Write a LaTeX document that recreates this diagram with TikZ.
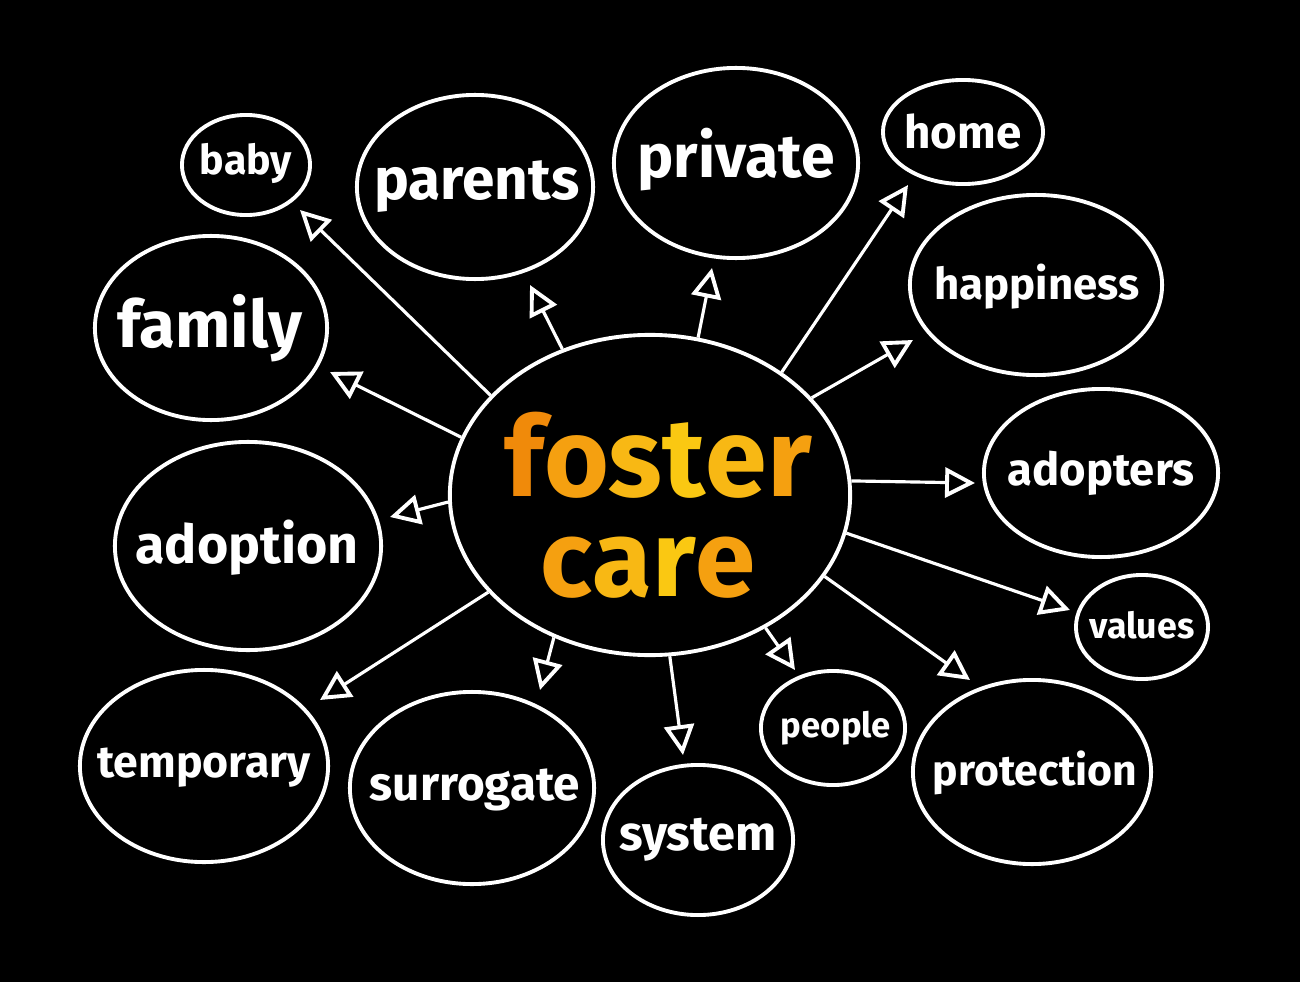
\documentclass[tikz,border=0pt]{standalone}
\usepackage{fontspec}
\setmainfont{Fira Sans}
\usetikzlibrary{arrows.meta,shapes.geometric}
\definecolor{oA}{HTML}{F08A0A}
\definecolor{oB}{HTML}{F5A010}
\definecolor{oC}{HTML}{F8B814}
\definecolor{oD}{HTML}{FAC812}
\begin{document}
\begin{tikzpicture}[x=0.01cm,y=-0.01cm,
  bub/.style 2 args={draw=white, line width=1.1pt, ellipse, inner sep=0pt,
     minimum width=#1*0.02cm, minimum height=#2*0.02cm},
  word/.style={text=white, inner sep=0pt, font=\bfseries},
  arr/.style={draw=white, line width=0.9pt,
     -{Triangle[open, length=8.5pt, width=8.5pt, line width=1.1pt]}}]
\fill[black] (0,0) rectangle (1300,982);
\useasboundingbox (0,0) rectangle (1300,982);

% central bubble
\node[bub={200}{160}] (fc) at (650,495) {};
\node[inner sep=0pt, font=\bfseries] (fos) at (658,455)
  {\resizebox{3.07cm}{!}{\textcolor{oA}{f}\textcolor{oB}{o}\textcolor{oC}{s}\textcolor{oD}{t}\textcolor{oC}{e}\textcolor{oB}{r}}};
\node[inner sep=0pt, font=\bfseries] (car) at (648,568)
  {\resizebox{2.15cm}{!}{\textcolor{oB}{c}\textcolor{oC}{a}\textcolor{oD}{r}\textcolor{oB}{e}}};

% outer bubbles
\node[bub={64}{50}]   (baby) at (246,165) {};
\node[bub={118}{92}]  (par)  at (475,187) {};
\node[bub={122}{95}]  (pri)  at (736,163) {};
\node[bub={80}{52}]   (home) at (963,132) {};
\node[bub={126}{90}]  (hap)  at (1036,285) {};
\node[bub={116}{92}]  (fam)  at (211,328) {};
\node[bub={117}{84}]  (adp)  at (1101,473) {};
\node[bub={133}{104}] (ado)  at (248,546) {};
\node[bub={66}{52}]   (val)  at (1142,627) {};
\node[bub={124}{96}]  (tem)  at (204,766) {};
\node[bub={122}{96}]  (sur)  at (472,788) {};
\node[bub={95}{75}]   (sys)  at (698,840) {};
\node[bub={72}{57}]   (peo)  at (833,728) {};
\node[bub={119}{92}]  (pro)  at (1032,772) {};

% labels
\node[word] (baby-t) at (246,163) {\resizebox{0.92cm}{!}{baby}};
\node[word] (par-t)  at (477,187) {\resizebox{2.05cm}{!}{parents}};
\node[word] (pri-t)  at (736,160) {\resizebox{1.97cm}{!}{private}};
\node[word] (home-t) at (963,132) {\resizebox{1.17cm}{!}{home}};
\node[word] (hap-t)  at (1037,287) {\resizebox{2.05cm}{!}{happiness}};
\node[word] (fam-t)  at (210,328) {\resizebox{1.84cm}{!}{family}};
\node[word] (adp-t)  at (1101,473) {\resizebox{1.87cm}{!}{adopters}};
\node[word] (ado-t)  at (247,548) {\resizebox{2.23cm}{!}{adoption}};
\node[word] (val-t)  at (1142,625) {\resizebox{1.05cm}{!}{values}};
\node[word] (tem-t)  at (204,768) {\resizebox{2.13cm}{!}{temporary}};
\node[word] (sur-t)  at (475,790) {\resizebox{2.10cm}{!}{surrogate}};
\node[word] (sys-t)  at (698,840) {\resizebox{1.57cm}{!}{system}};
\node[word] (peo-t)  at (836,728) {\resizebox{1.10cm}{!}{people}};
\node[word] (pro-t)  at (1035,773) {\resizebox{2.04cm}{!}{protection}};

% arrow tips
\coordinate (tbaby) at (300,210);
\coordinate (tpar)  at (530,285);
\coordinate (tpri)  at (712,268);
\coordinate (thome) at (908,185);
\coordinate (thap)  at (913,340);
\coordinate (tfam)  at (330,372);
\coordinate (tadp)  at (975,483);
\coordinate (tado)  at (390,517);
\coordinate (tval)  at (1070,610);
\coordinate (ttem)  at (320,700);
\coordinate (tsur)  at (540,690);
\coordinate (tsys)  at (683,755);
\coordinate (tpeo)  at (795,670);
\coordinate (tpro)  at (970,680);

\foreach \a/\t in {148.3/tbaby,121/tpar,73.3/tpri,43.3/thome,31.2/thap,
    163.2/tfam,4/tadp,182.8/tado,-11.6/tval,211/ttem,236.8/tsur,
    277/tsys,311.5/tpeo,335/tpro}
  \draw[arr] (fc.\a) -- (\t);
\end{tikzpicture}
\end{document}
